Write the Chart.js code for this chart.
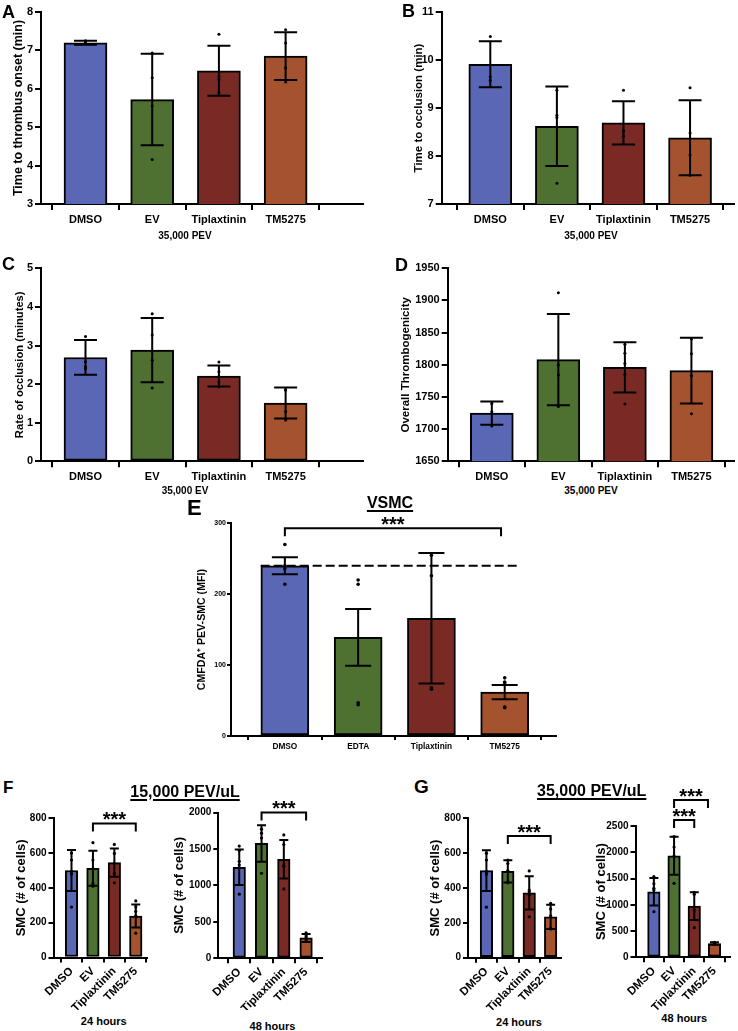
<!DOCTYPE html>
<html lang="en">
<head>
<meta charset="UTF-8">
<title>PEV thrombosis and SMC figure</title>
<script src="https://cdn.jsdelivr.net/npm/chart.js"></script>
<style>
  body { margin: 0; background: #fff; }
  #fig { position: relative; width: 738px; height: 1031px; overflow: hidden;
         font-family: 'Liberation Sans', Arial, sans-serif; font-weight: bold; color: #000; }
  #fig canvas { position: absolute; }
  .lbl { position: absolute; line-height: 1; white-space: nowrap; }
  .ul { text-decoration: underline; text-decoration-thickness: 1.5px; text-underline-offset: 2px; }
</style>
</head>
<body>
<div id="fig"></div>
<script>
// categories
const catsPEV = ['DMSO', 'EV', 'Tiplaxtinin', 'TM5275'];
const catsE = ['DMSO', 'EDTA', 'Tiplaxtinin', 'TM5275'];
const colors = ['#5A67B4', '#4E7031', '#7A2A24', '#A5522F'];

// A - time to thrombus onset
const meanA = [7.2, 5.72, 6.47, 6.85];
const errA = [0.05, 1.19, 0.65, 0.62];
const dotsA = [[7.25, 7.22, 7.2, 7.17], [6.93, 6.29, 5.55, 4.16], [7.42, 6.33, 6.24, 5.9], [7.54, 7.19, 6.54, 6.18]];

// B - time to occlusion
const meanB = [9.91, 8.62, 8.69, 8.38];
const errB = [0.48, 0.83, 0.45, 0.78];
const dotsB = [[10.49, 9.65, 9.58], [9.37, 8.85, 8.8, 7.43], [9.37, 8.52, 8.52, 8.41], [9.42, 8.48, 8.02, 7.6]];

// C - rate of occlusion
const meanC = [2.69, 2.88, 2.21, 1.51];
const errC = [0.45, 0.83, 0.27, 0.4];
const dotsC = [[3.23, 2.58, 2.45, 2.4], [3.82, 3.27, 2.62, 1.9], [2.57, 2.32, 2.2, 2.06, 1.93], [1.85, 1.85, 1.29, 1.07]];

// D - overall thrombogenicity
const meanD = [1725, 1808, 1796, 1791];
const errD = [18, 71, 39, 51];
const dotsD = [[1740, 1727, 1705], [1912, 1800, 1784, 1735], [1832, 1818, 1802, 1785, 1739], [1840, 1817, 1783, 1724]];

// E - VSMC uptake
const meanE = [240, 139, 166, 62];
const errE = [12, 40, 92, 10];
const dotsE = [[270, 240, 236, 214], [220, 214, 47, 44], [255, 226, 68, 66], [82, 76, 75, 41, 40]];

// F - 15,000 PEV/uL
const meanF24 = [500, 513, 545, 238];
const errF24 = [118, 100, 81, 66];
const dotsF24 = [[600, 560, 495, 480, 290], [660, 560, 510, 425, 410], [650, 598, 540, 483, 429], [325, 290, 265, 240, 140]];
const meanF48 = [1248, 1576, 1358, 280];
const errF48 = [243, 250, 265, 55];
const dotsF48 = [[1540, 1480, 1330, 1280, 880], [1771, 1716, 1650, 1167], [1693, 1560, 1272, 1258, 952], [350, 320, 297, 275, 255]];

// G - 35,000 PEV/uL
const meanG24 = [500, 495, 372, 234];
const errG24 = [117, 64, 95, 70];
const dotsG24 = [[600, 560, 495, 480, 290], [560, 540, 500, 436, 430], [498, 388, 379, 360, 235], [312, 280, 240, 170, 165]];
const meanG48 = [1247, 1933, 975, 262];
const errG48 = [262, 360, 265, 25];
const dotsG48 = [[1535, 1400, 1313, 1282, 869], [2297, 2100, 1930, 1409], [1237, 1200, 900, 565], [285, 270, 260, 250]];

const FONT = "'Liberation Sans', Arial, sans-serif";
Chart.defaults.font.family = FONT;
Chart.defaults.font.weight = 'bold';
Chart.defaults.color = '#000';

// error bars drawn right after the bars, before the dots
const errorBars = {
  id: 'errorBars',
  afterDatasetDraw(chart, args, opts) {
    if (args.meta.type !== 'bar') return;
    const { ctx, scales: { x, y } } = chart;
    ctx.save();
    ctx.strokeStyle = '#000';
    ctx.lineWidth = 2;
    opts.means.forEach((m, i) => {
      const cx = x.getPixelForValue(i);
      const top = y.getPixelForValue(m + opts.errs[i]);
      const bot = y.getPixelForValue(m - opts.errs[i]);
      const h = opts.cap / 2;
      ctx.beginPath();
      ctx.moveTo(cx, top); ctx.lineTo(cx, bot);
      ctx.moveTo(cx - h, top); ctx.lineTo(cx + h, top);
      ctx.moveTo(cx - h, bot); ctx.lineTo(cx + h, bot);
      ctx.stroke();
    });
    ctx.restore();
  }
};

// significance brackets and reference line
const marks = {
  id: 'marks',
  afterDraw(chart, args, opts) {
    const { ctx, scales: { x, y } } = chart;
    ctx.save();
    ctx.strokeStyle = '#000';
    ctx.fillStyle = '#000';
    ctx.lineWidth = 2;
    (opts.brackets || []).forEach(b => {
      const x1 = x.getPixelForValue(b.from);
      const x2 = x.getPixelForValue(b.to);
      const yy = y.getPixelForValue(b.level);
      ctx.beginPath();
      ctx.moveTo(x1, yy + 8); ctx.lineTo(x1, yy); ctx.lineTo(x2, yy); ctx.lineTo(x2, yy + 8);
      ctx.stroke();
      ctx.font = 'bold 20px ' + FONT;
      ctx.textAlign = 'center';
      ctx.textBaseline = 'alphabetic';
      ctx.fillText('***', (x1 + x2) / 2, yy - 9 + 0.58 * 20);
    });
    if (opts.dashed) {
      const d = opts.dashed;
      const yy = y.getPixelForValue(d.value);
      ctx.setLineDash([9, 4]);
      ctx.beginPath();
      ctx.moveTo(x.getPixelForValue(d.from), yy);
      ctx.lineTo(x.getPixelForValue(d.to), yy);
      ctx.stroke();
    }
    ctx.restore();
  }
};

const fig = document.getElementById('fig');

function makePanel(p) {
  const [cl, ct, cw, ch] = p.cv;
  const [x0, x1, y0, y1] = p.area;
  const cv = document.createElement('canvas');
  cv.width = cw; cv.height = ch;
  cv.style.left = cl + 'px'; cv.style.top = ct + 'px';
  fig.appendChild(cv);
  const yW = x0 - cl;
  const xH = ct + ch - y1;
  const titleLH = p.titleSize * 1.2;
  new Chart(cv, {
    type: 'bar',
    data: {
      datasets: [
        {
          type: 'bar', order: 1,
          data: p.mean.map((m, i) => ({ x: i, y: m })),
          backgroundColor: colors, borderColor: '#000', borderWidth: 2,
          borderSkipped: false, barThickness: p.bar
        },
        {
          type: 'scatter', order: 0, clip: false,
          data: p.dots.flatMap((arr, i) => arr.map(v => ({ x: i, y: v }))),
          backgroundColor: '#000', borderWidth: 0, pointRadius: p.dot
        }
      ]
    },
    options: {
      responsive: false, animation: false,
      layout: { padding: { top: y0 - ct, right: cl + cw - x1, left: 0, bottom: 0 } },
      plugins: {
        legend: { display: false }, tooltip: { enabled: false },
        errorBars: { means: p.mean, errs: p.err, cap: p.cap },
        marks: { brackets: p.brackets, dashed: p.dashed }
      },
      scales: {
        x: {
          type: 'linear', min: p.x[0], max: p.x[1], offset: false,
          afterBuildTicks(s) { s.ticks = p.cats.map((c, i) => ({ value: i })); },
          ticks: {
            autoSkip: false, padding: p.xPad, minRotation: p.rot, maxRotation: p.rot,
            font: { size: p.labelSize, weight: 'bold' },
            callback: v => p.cats[v]
          },
          grid: { display: true, drawOnChartArea: false, drawTicks: true, tickLength: p.tick, color: '#000', lineWidth: 2 },
          border: { display: true, color: '#000', width: 2 },
          afterFit(s) { s.height = xH; }
        },
        y: {
          min: p.y[0], max: p.y[1],
          ticks: {
            stepSize: p.y[2], padding: p.yPad, font: { size: p.tickSize, weight: 'bold' },
            callback: v => String(v)
          },
          grid: { display: true, drawOnChartArea: false, drawTicks: true, tickLength: p.tick, color: '#000', lineWidth: 2 },
          border: { display: true, color: '#000', width: 2 },
          title: {
            display: true, text: p.title, font: { size: p.titleSize, weight: 'bold' },
            padding: { top: p.titleX - cl - titleLH / 2, bottom: 0 }
          },
          afterFit(s) { s.width = yW; }
        }
      }
    },
    plugins: [errorBars, marks]
  });
}

const big = { cats: catsPEV, bar: 43, cap: 23, dot: 1.5, tick: 6, xPad: 3, yPad: 2, tickSize: 11, labelSize: 11, rot: 0 };
const small = { cats: catsPEV, bar: 12.5, cap: 9, dot: 1.6, tick: 5, xPad: 2, yPad: 2, tickSize: 10, labelSize: 11.5, rot: 45, titleSize: 13 };

makePanel({ ...big, cv: [0, 0, 369, 232], area: [41, 363, 12, 204], x: [-0.667, 4.16], y: [3, 8, 1],
  mean: meanA, err: errA, dots: dotsA, title: 'Time to thrombus onset (min)', titleSize: 12.5, titleX: 19 });
makePanel({ ...big, cv: [369, 0, 369, 232], area: [441.7, 735.5, 12, 204], x: [-0.73, 3.66], y: [7, 11, 1],
  mean: meanB, err: errB, dots: dotsB, title: 'Time to occlusion (min)', titleSize: 11.5, titleX: 418.7 });
makePanel({ ...big, cv: [0, 250, 369, 232], area: [41, 363, 268.3, 461.3], x: [-0.667, 4.16], y: [0, 5, 1],
  mean: meanC, err: errC, dots: dotsC, title: 'Rate of occlusion (minutes)', titleSize: 11.2, titleX: 19.7 });
makePanel({ ...big, cv: [369, 250, 369, 232], area: [447.7, 735.5, 268.3, 461.3], x: [-0.663, 3.64], y: [1650, 1950, 50],
  mean: meanD, err: errD, dots: dotsD, title: 'Overall Thrombogenicity', titleSize: 11.5, titleX: 406 });
makePanel({ ...big, cats: catsE, bar: 48, cap: 26, dot: 1.8, tick: 4, xPad: 2, yPad: 1, tickSize: 7, labelSize: 8.3,
  cv: [180, 505, 380, 255], area: [231, 557, 523.3, 736], x: [-0.735, 3.70], y: [0, 300, 100],
  mean: meanE, err: errE, dots: dotsE, title: 'CMFDA\u207A PEV-SMC (MFI)', titleSize: 10.6, titleX: 202,
  brackets: [{ from: 0, to: 2.95, level: 293 }], dashed: { value: 240, from: -0.33, to: 3.17 } });
makePanel({ ...small, cv: [0, 800, 165, 210], area: [53.5, 146.7, 818.3, 957.5], x: [-0.84, 3.51], y: [0, 800, 200],
  mean: meanF24, err: errF24, dots: dotsF24, title: 'SMC (# of cells)', titleX: 21.7,
  brackets: [{ from: 1, to: 3, level: 770 }] });
makePanel({ ...small, cv: [165, 795, 200, 215], area: [218.3, 321.7, 812.5, 958.3], x: [-0.94, 3.7], y: [0, 2000, 500],
  mean: meanF48, err: errF48, dots: dotsF48, title: 'SMC (# of cells)', titleX: 179.5,
  brackets: [{ from: 1, to: 3, level: 2000 }] });
makePanel({ ...small, cv: [380, 800, 190, 210], area: [468, 560.7, 818.3, 957.7], x: [-0.86, 3.47], y: [0, 800, 200],
  mean: meanG24, err: errG24, dots: dotsG24, title: 'SMC (# of cells)', titleX: 435.3,
  brackets: [{ from: 1, to: 3, level: 698 }] });
makePanel({ ...small, cv: [570, 780, 168, 230], area: [635.5, 730, 826, 957.3], x: [-0.91, 3.77], y: [0, 2500, 500],
  mean: meanG48, err: errG48, dots: dotsG48, title: 'SMC (# of cells)', titleX: 601,
  brackets: [{ from: 1, to: 2.68, level: 2995 }, { from: 1, to: 2, level: 2614 }] });

// page text: panel letters, captions, headings
function addText(txt, x, cy, size, opt = {}) {
  const d = document.createElement('div');
  d.className = 'lbl' + (opt.ul ? ' ul' : '');
  d.textContent = txt;
  d.style.fontSize = size + 'px';
  d.style.top = (cy - 0.49 * size) + 'px';
  d.style.left = x + 'px';
  if (!opt.left) d.style.transform = 'translateX(-50%)';
  fig.appendChild(d);
}
addText('A', 2, 11.5, 18, { left: true });
addText('B', 402, 11, 18, { left: true });
addText('C', 2, 263.5, 18, { left: true });
addText('D', 395, 264.5, 18, { left: true });
addText('E', 187, 508, 22, { left: true });
addText('F', 3, 787.5, 17, { left: true });
addText('G', 414, 786, 19, { left: true });

addText('35,000 PEV', 185, 236, 10);
addText('35,000 PEV', 591, 236, 10);
addText('35,000 EV', 185, 491, 10);
addText('35,000 PEV', 591, 491, 10);

addText('VSMC', 390, 502.7, 16, { ul: true });
addText('15,000 PEV/uL', 185, 791.5, 16, { ul: true });
addText('35,000 PEV/uL', 591.7, 791.3, 16, { ul: true });

addText('24 hours', 103.8, 1021, 11);
addText('48 hours', 272.5, 1026, 11);
addText('24 hours', 519, 1022, 11);
addText('48 hours', 684.3, 1018, 11);
</script>
</body>
</html>
